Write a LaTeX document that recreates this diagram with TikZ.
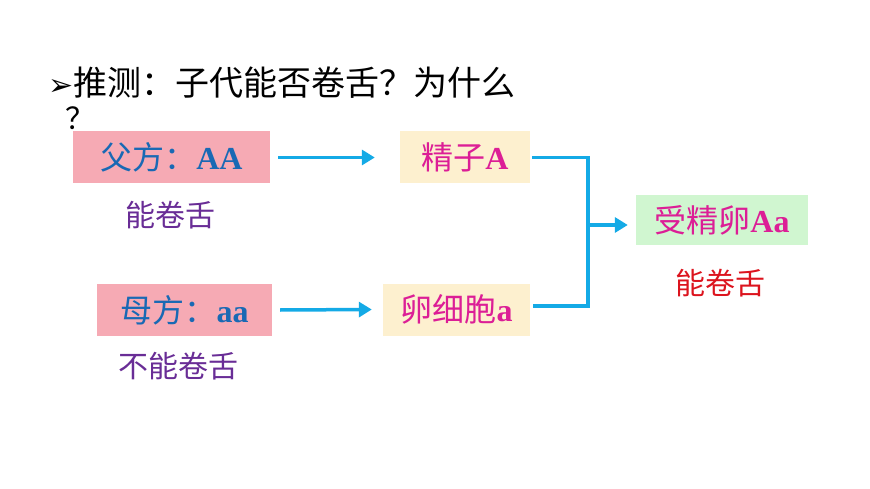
\documentclass[tikz,border=0pt]{standalone}
\usepackage{fontspec}
\setmainfont{Liberation Serif}
\newfontfamily\cjk{Noto Sans CJK SC}
\newfontfamily\dejavu{DejaVu Sans}
\usetikzlibrary{arrows.meta}
\definecolor{pinkbox}{RGB}{246,170,180}
\definecolor{creambox}{RGB}{253,240,207}
\definecolor{greenbox}{RGB}{208,246,208}
\definecolor{bluetxt}{RGB}{25,105,180}
\definecolor{magtxt}{RGB}{220,30,150}
\definecolor{arr}{RGB}{20,170,230}
\definecolor{purp}{RGB}{105,45,150}
\definecolor{redtxt}{RGB}{220,20,30}
\begin{document}
\begin{tikzpicture}[x=1pt,y=-1pt,
  box/.style={inner sep=0pt,minimum height=52pt,font=\fontsize{32}{32}\selectfont},
  lab/.style={font=\cjk\fontsize{30}{30}\selectfont},
  conn/.style={draw=arr,line width=3.5pt},
  arw/.style={conn,-{Triangle[length=13pt,width=15pt]}}]
\useasboundingbox (0,0) rectangle (870,489);
\node[anchor=west,font=\cjk\fontsize{34}{34}\selectfont,inner sep=0pt] (title) at (48,83) {{\dejavu\fontsize{30}{30}\selectfont ➢}推测：子代能否卷舌？为什么};
\node[font=\cjk\fontsize{30}{30}\selectfont] (q) at (80,118) {？};
\node[box,fill=pinkbox,minimum width=197pt,text=bluetxt] (f) at (171.5,157.5) {{\cjk 父方：}\textbf{AA}};
\node[box,fill=creambox,minimum width=130pt,text=magtxt] (s) at (465,157.5) {{\cjk 精子}\textbf{A}};
\node[box,fill=pinkbox,minimum width=175pt,text=bluetxt] (m) at (184.5,310) {{\cjk 母方：}\textbf{aa}};
\node[box,fill=creambox,minimum width=147pt,text=magtxt] (e) at (456.5,309.5) {{\cjk 卵细胞}\textbf{a}};
\node[box,fill=greenbox,minimum width=172pt,minimum height=50pt,text=magtxt] (z) at (722,220) {{\cjk 受精卵}\textbf{Aa}};
\node[lab,text=purp] (l1) at (170,215) {能卷舌};
\node[lab,text=purp] (l2) at (178,366) {不能卷舌};
\node[lab,text=redtxt] (l3) at (720,283) {能卷舌};
\draw[arw] ([xshift=8pt]f.east) -- ([xshift=-25pt]s.west);
\draw[arw] ([xshift=8pt]m.east) -- ([xshift=-11pt]e.west);
\coordinate (j) at (588,225);
\coordinate (jt) at (588,157.5);
\coordinate (jb) at (588,306);
\draw[conn] ([xshift=2pt]s.east) -- (jt) -- (jb) -- ([xshift=3pt]e.east |- jb);
\draw[arw] (j) -- ([xshift=-8pt]z.west |- j);
\end{tikzpicture}
\end{document}
